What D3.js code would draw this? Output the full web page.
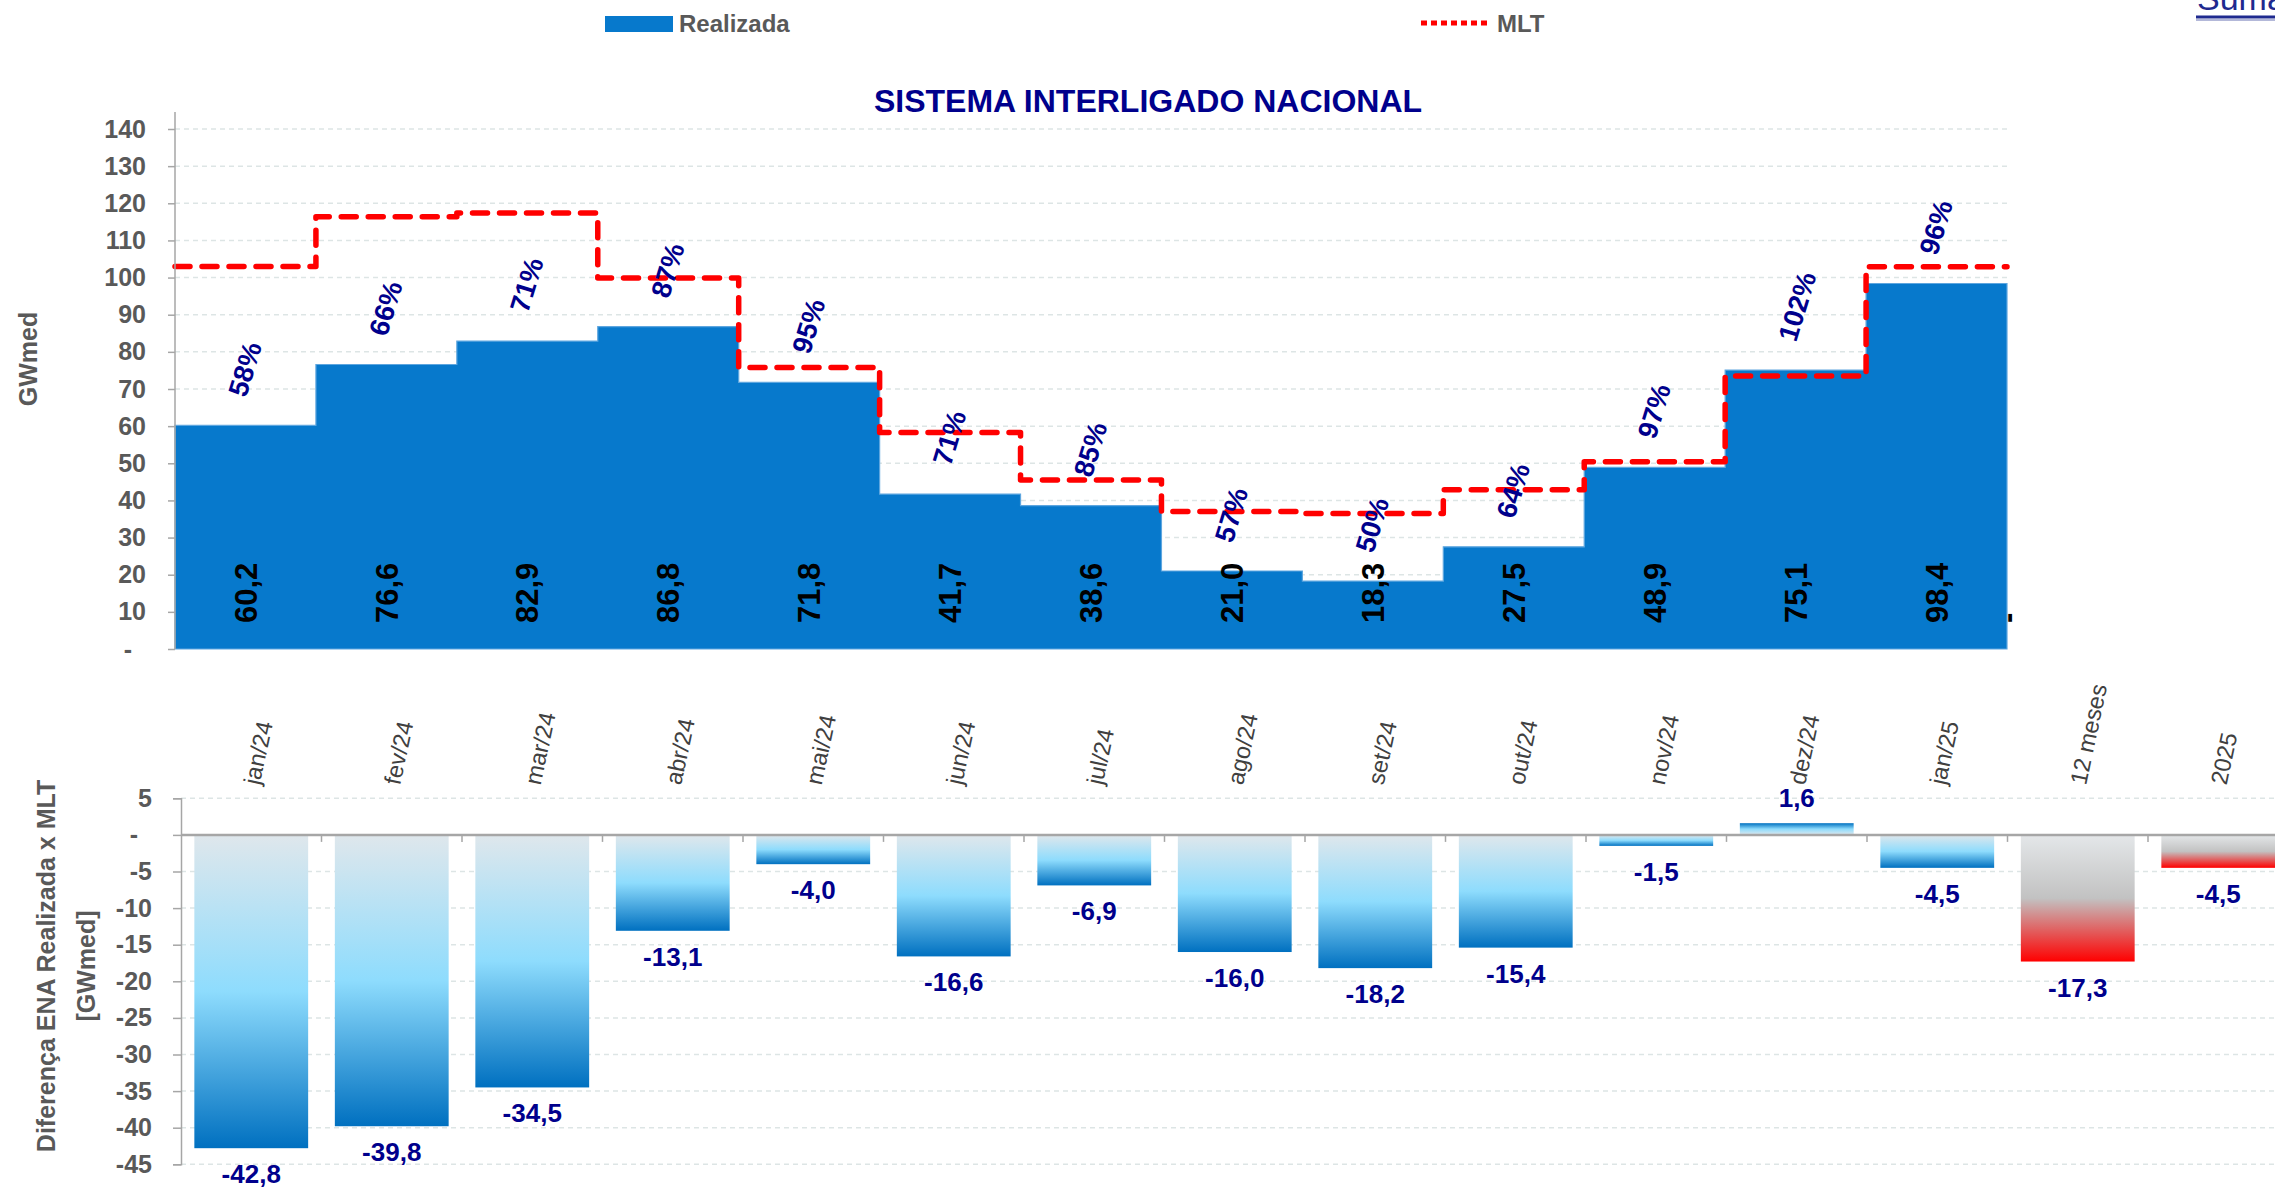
<!DOCTYPE html>
<html>
<head>
<meta charset="utf-8">
<script src="https://cdn.jsdelivr.net/npm/d3@7"></script>
<style>
body { margin: 0; background: #fff; overflow: hidden; }
svg { display: block; font-family: "Liberation Sans", Arial, sans-serif; }
</style>
</head>
<body>
<div id="chart-area"></div>
<script>
// ENA realizada x MLT - SIN
var months = ["jan/24", "fev/24", "mar/24", "abr/24", "mai/24", "jun/24", "jul/24",
    "ago/24", "set/24", "out/24", "nov/24", "dez/24", "jan/25"];
var realizada = [60.2, 76.6, 82.9, 86.8, 71.8, 41.7, 38.6, 21.0, 18.3, 27.5, 48.9, 75.1, 98.4];
var mlt = [103.0, 116.4, 117.4, 99.9, 75.8, 58.3, 45.5, 37.0, 36.5, 42.9, 50.4, 73.5, 102.9];
var pctLabels = ["58%", "66%", "71%", "87%", "95%", "71%", "85%", "57%", "50%", "64%", "97%", "102%", "96%"];

var summaryCats = ["12 meses", "2025"];
var diffCats = months.concat(summaryCats);
var diffs = [-42.8, -39.8, -34.5, -13.1, -4.0, -16.6, -6.9, -16.0, -18.2, -15.4, -1.5, 1.6, -4.5, -17.3, -4.5];

var topTicks = d3.range(0, 141, 10);
var bottomTicks = d3.range(-45, 6, 5);

var W = 2275, H = 1188;
var gray = "#595959";
var navy = "#00008c";

var br = d3.formatLocale({ decimal: ",", thousands: ".", grouping: [3], currency: ["R$", ""], minus: "-" });
var fmt = br.format(".1f");

var svg = d3.select("#chart-area").append("svg")
    .attr("width", W)
    .attr("height", H);

var defs = svg.append("defs");

function gradient(id, stops) {
    var g = defs.append("linearGradient")
        .attr("id", id)
        .attr("x1", 0).attr("y1", 0).attr("x2", 0).attr("y2", 1);
    stops.forEach(s => g.append("stop").attr("offset", s[0]).attr("stop-color", s[1]));
}
gradient("blueNeg", [[0, "#dfe7ec"], [0.5, "#8edcfd"], [1, "#0070c0"]]);
gradient("bluePos", [[0, "#0070c0"], [0.5, "#8edcfd"], [1, "#dfe7ec"]]);
gradient("redNeg", [[0, "#e4e7e9"], [0.5, "#c2c2c2"], [1, "#ff0000"]]);

// ---------- legend / header ----------
var legend = svg.append("g");
legend.append("rect")
    .attr("x", 605).attr("y", 16)
    .attr("width", 68).attr("height", 16)
    .attr("fill", "#0779cc");
legend.append("text")
    .attr("x", 679).attr("y", 32)
    .attr("font-size", 24).attr("font-weight", "bold").attr("fill", gray)
    .text("Realizada");
legend.append("line")
    .attr("x1", 1421).attr("x2", 1490)
    .attr("y1", 23).attr("y2", 23)
    .attr("stroke", "red").attr("stroke-width", 5)
    .attr("stroke-dasharray", "6 4");
legend.append("text")
    .attr("x", 1497).attr("y", 32)
    .attr("font-size", 24).attr("font-weight", "bold").attr("fill", gray)
    .text("MLT");

// cut-off link at top right
svg.append("text")
    .attr("x", 2197).attr("y", 10)
    .attr("font-size", 34).attr("fill", "#1f2a8f")
    .text("Sumário");
svg.append("line")
    .attr("x1", 2196).attr("x2", W)
    .attr("y1", 17).attr("y2", 17)
    .attr("stroke", "#1f2a8f").attr("stroke-width", 3);
svg.append("line")
    .attr("x1", 2196).attr("x2", W)
    .attr("y1", 20).attr("y2", 20)
    .attr("stroke", "#9aa0cc").attr("stroke-width", 1.5);

svg.append("text")
    .attr("x", 1148).attr("y", 112)
    .attr("text-anchor", "middle")
    .attr("font-size", 32).attr("font-weight", "bold").attr("fill", navy)
    .text("SISTEMA INTERLIGADO NACIONAL");

// ---------- top chart ----------
var xTop = d3.scaleBand()
    .domain(months)
    .range([175, 2007]);

var yTop = d3.scaleLinear()
    .domain([0, 140])
    .range([649, 129]);

var gTop = svg.append("g");

gTop.selectAll(".grid")
    .data(topTicks.filter(d => d > 0))
    .enter().append("line")
    .attr("x1", xTop.range()[0]).attr("x2", xTop.range()[1])
    .attr("y1", d => yTop(d)).attr("y2", d => yTop(d))
    .attr("stroke", "#dde5e5").attr("stroke-width", 1.5)
    .attr("stroke-dasharray", "5 4");

var last = months.length - 1;
var realPts = months.map((m, i) => ({ x: xTop(m), v: realizada[i] }));
realPts.push({ x: xTop(months[last]) + xTop.bandwidth(), v: realizada[last] });
var mltPts = months.map((m, i) => ({ x: xTop(m), v: mlt[i] }));
mltPts.push({ x: xTop(months[last]) + xTop.bandwidth(), v: mlt[last] });

var area = d3.area()
    .x(d => d.x)
    .y0(yTop(0))
    .y1(d => yTop(d.v))
    .curve(d3.curveStepAfter);

gTop.append("path")
    .attr("d", area(realPts))
    .attr("fill", "#0779cc")
    .attr("stroke", "#5ea6df")
    .attr("stroke-width", 1.2);

var line = d3.line()
    .x(d => d.x)
    .y(d => yTop(d.v))
    .curve(d3.curveStepAfter);

gTop.append("path")
    .attr("d", line(mltPts))
    .attr("fill", "none")
    .attr("stroke", "#ff0000")
    .attr("stroke-width", 5.5)
    .attr("stroke-linejoin", "round")
    .attr("stroke-linecap", "round")
    .attr("stroke-dasharray", "15 12");

var yTopAxis = d3.axisLeft(yTop)
    .tickValues(topTicks)
    .tickSize(7)
    .tickPadding(22)
    .tickFormat(d => d === 0 ? "-\u00a0\u00a0" : d);

var yTopG = gTop.append("g")
    .attr("transform", `translate(${xTop.range()[0]},0)`)
    .call(yTopAxis);
yTopG.select(".domain").remove();
yTopG.selectAll(".tick line").attr("stroke", "#a6a6a6").attr("stroke-width", 1.5);
yTopG.selectAll("text")
    .attr("font-size", 25).attr("font-weight", "bold").attr("fill", gray)
    .attr("font-family", "Liberation Sans, Arial, sans-serif");
gTop.append("line")
    .attr("x1", xTop.range()[0]).attr("x2", xTop.range()[0])
    .attr("y1", yTop(0)).attr("y2", yTop(140) - 17)
    .attr("stroke", "#a6a6a6").attr("stroke-width", 1.5);

gTop.append("text")
    .attr("transform", `translate(37,${(yTop(0) + yTop(140)) / 2 - 30}) rotate(-90)`)
    .attr("text-anchor", "middle")
    .attr("font-size", 25).attr("font-weight", "bold").attr("fill", gray)
    .text("GWmed");

// values inside the area
gTop.selectAll(".val")
    .data(months)
    .enter().append("text")
    .attr("transform", d => `translate(${xTop(d) + xTop.bandwidth() / 2},${yTop(0) - 26}) rotate(-90)`)
    .attr("dy", "0.36em")
    .attr("font-size", 31).attr("font-weight", "bold").attr("fill", "#000")
    .text((d, i) => fmt(realizada[i]));

// leftover label of the empty point at the right edge
gTop.append("text")
    .attr("transform", `translate(${xTop(months[last]) + xTop.bandwidth()},${yTop(0) - 26}) rotate(-90)`)
    .attr("dy", "0.36em")
    .attr("font-size", 31).attr("font-weight", "bold").attr("fill", "#000")
    .text("-");

// percentage of MLT
gTop.selectAll(".pct")
    .data(months)
    .enter().append("text")
    .attr("transform", (d, i) => `translate(${xTop(d) + xTop.bandwidth() / 2 - 9},${yTop(realizada[i]) - 30}) rotate(-73)`)
    .attr("dy", "0.36em")
    .attr("font-size", 27.5).attr("font-weight", "bold").attr("fill", navy)
    .text((d, i) => pctLabels[i]);

// ---------- bottom chart ----------
var xBot = d3.scaleBand()
    .domain(diffCats)
    .range([181, 181 + 140.5 * diffCats.length])
    .paddingInner(0.19)
    .paddingOuter(0.095);

var yBot = d3.scaleLinear()
    .domain([-45, 5])
    .range([1164.3, 798.3]);

var gBot = svg.append("g");

gBot.selectAll(".grid")
    .data(bottomTicks.filter(d => d !== 0))
    .enter().append("line")
    .attr("x1", xBot.range()[0]).attr("x2", W)
    .attr("y1", d => yBot(d)).attr("y2", d => yBot(d))
    .attr("stroke", "#dde5e5").attr("stroke-width", 1.5)
    .attr("stroke-dasharray", "5 4");

gBot.selectAll(".bar")
    .data(diffCats)
    .enter().append("rect")
    .attr("x", d => xBot(d))
    .attr("width", xBot.bandwidth())
    .attr("y", (d, i) => Math.min(yBot(diffs[i]), yBot(0)))
    .attr("height", (d, i) => Math.abs(yBot(diffs[i]) - yBot(0)))
    .attr("fill", (d, i) => summaryCats.includes(d) ? "url(#redNeg)"
        : diffs[i] >= 0 ? "url(#bluePos)" : "url(#blueNeg)");

gBot.append("line")
    .attr("x1", xBot.range()[0]).attr("x2", W)
    .attr("y1", yBot(0)).attr("y2", yBot(0))
    .attr("stroke", "#a6a6a6").attr("stroke-width", 2.5);

gBot.selectAll(".sep")
    .data(diffCats)
    .enter().append("line")
    .attr("x1", d => xBot(d) - xBot.step() * 0.095 + xBot.step())
    .attr("x2", d => xBot(d) - xBot.step() * 0.095 + xBot.step())
    .attr("y1", yBot(0)).attr("y2", yBot(0) + 7)
    .attr("stroke", "#a6a6a6").attr("stroke-width", 1.5);

var yBotAxis = d3.axisLeft(yBot)
    .tickValues(bottomTicks)
    .tickSize(8)
    .tickPadding(21)
    .tickFormat(d => d === 0 ? "-\u00a0\u00a0" : String(d));

var yBotG = gBot.append("g")
    .attr("transform", `translate(${xBot.range()[0]},0)`)
    .call(yBotAxis);
yBotG.select(".domain").attr("stroke", "#a6a6a6").attr("stroke-width", 1.5);
yBotG.selectAll(".tick line").attr("stroke", "#a6a6a6").attr("stroke-width", 1.5);
yBotG.selectAll("text")
    .attr("font-size", 25).attr("font-weight", "bold").attr("fill", gray)
    .attr("font-family", "Liberation Sans, Arial, sans-serif");

// category labels between the two charts
gBot.selectAll(".cat")
    .data(diffCats)
    .enter().append("text")
    .attr("transform", d => `translate(${xBot(d) + xBot.bandwidth() / 2},784) rotate(-78)`)
    .attr("dy", "0.36em")
    .attr("font-size", 23.5).attr("fill", "#404040")
    .text(d => d);

// difference labels
gBot.selectAll(".dval")
    .data(diffCats)
    .enter().append("text")
    .attr("x", d => xBot(d) + xBot.bandwidth() / 2)
    .attr("y", (d, i) => diffs[i] < 0 ? yBot(diffs[i]) + 35 : yBot(diffs[i]) - 16)
    .attr("text-anchor", "middle")
    .attr("font-size", 26).attr("font-weight", "bold").attr("fill", navy)
    .text((d, i) => fmt(diffs[i]));

var yTitle = gBot.append("text")
    .attr("transform", `translate(55,966) rotate(-90)`)
    .attr("text-anchor", "middle")
    .attr("font-size", 25).attr("font-weight", "bold").attr("fill", gray);
yTitle.append("tspan").attr("x", 0).attr("y", 0).text("Diferença ENA Realizada x MLT");
yTitle.append("tspan").attr("x", 0).attr("y", 40).text("[GWmed]");
</script>
</body>
</html>
